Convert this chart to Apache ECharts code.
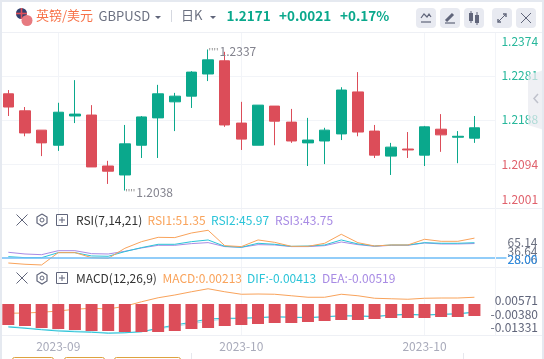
<!DOCTYPE html>
<html>
<head>
<meta charset="utf-8">
<style>
  html, body { margin: 0; padding: 0; background: #fff; }
  #myChart { width: 544px; height: 359px; }
</style>
<script src="https://cdn.jsdelivr.net/npm/echarts@6/dist/echarts.min.js"></script>
</head>
<body>
<div id="myChart"></div>
<script>
// values
const opens  = [1.2243,1.2207,1.2166,1.2134,1.2196,1.2198,1.2090,1.2071,1.2134,1.2192,1.2226,1.2238,1.2285,1.2313,1.2181,1.2134,1.2217,1.2183,1.2139,1.2143,1.2158,1.2247,1.2164,1.2111,1.2126,1.2113,1.2168,1.2151,1.2149];
const closes = [1.2215,1.2160,1.2139,1.2204,1.2200,1.2088,1.2079,1.2137,1.2194,1.2243,1.2238,1.2289,1.2315,1.2177,1.2147,1.2219,1.2185,1.2143,1.2145,1.2166,1.2251,1.2162,1.2113,1.2130,1.2124,1.2173,1.2156,1.2153,1.2171];
const lows   = [1.2196,1.2153,1.2111,1.2122,1.2181,1.2088,1.2052,1.2038,1.2107,1.2107,1.2164,1.2213,1.2270,1.2173,1.2124,1.2134,1.2134,1.2139,1.2090,1.2094,1.2145,1.2153,1.2107,1.2071,1.2107,1.2090,1.2120,1.2096,1.2139];
const highs  = [1.2251,1.2215,1.2166,1.2224,1.2272,1.2219,1.2101,1.2177,1.2196,1.2262,1.2245,1.2291,1.2337,1.2332,1.2226,1.2219,1.2217,1.2211,1.2192,1.2171,1.2257,1.2289,1.2177,1.2139,1.2162,1.2175,1.2200,1.2164,1.2196];

const rsi1 = [22.1,20.6,19.8,34.3,34.3,28.4,27.6,39.4,47.2,52.3,52.0,57.4,60.6,42.5,41.4,49.2,46.4,41.7,41.7,45.3,55.9,46.0,42.1,43.3,43.3,50.0,47.6,47.6,51.35];
const rsi2 = [29.6,28.4,28.4,34.3,34.3,30.4,30.0,35.5,40.2,44.1,44.1,47.2,49.2,41.7,40.6,45.3,44.1,41.7,42.1,43.3,49.2,44.5,42.1,43.3,43.3,46.0,45.3,45.3,45.97];
const rsi3 = [34.7,32.7,31.9,36.6,36.6,33.1,32.7,35.9,39.8,42.9,42.9,44.9,46.1,41.4,40.6,43.7,43.3,41.4,41.4,42.5,46.8,43.7,41.7,42.9,42.9,45.7,44.5,44.5,45.0];
const rsiFloor = 28;

const macdBars = [-0.0084,-0.0088,-0.0096,-0.0100,-0.0104,-0.0108,-0.0108,-0.0112,-0.0112,-0.0112,-0.0108,-0.0100,-0.0096,-0.0088,-0.0084,-0.0080,-0.0076,-0.0076,-0.0072,-0.0068,-0.0064,-0.0064,-0.0060,-0.0056,-0.0056,-0.0056,-0.0052,-0.0052,-0.0048];
const macdLine = [-0.0037,-0.0036,-0.0033,-0.0028,-0.0021,-0.0017,-0.0020,-0.0009,0.0009,0.0025,0.0036,0.0049,0.0061,0.0049,0.0039,0.0040,0.0039,0.0033,0.0027,0.0027,0.0039,0.0033,0.0023,0.0021,0.0019,0.0023,0.0024,0.0024,0.0027];
const difLine  = [-0.0092,-0.0097,-0.0103,-0.0108,-0.0111,-0.0113,-0.0117,-0.0115,-0.0111,-0.0097,-0.0084,-0.0073,-0.0060,-0.0057,-0.0057,-0.0055,-0.0051,-0.0053,-0.0055,-0.0051,-0.0047,-0.0048,-0.0051,-0.0044,-0.0041,-0.0044,-0.0041,-0.0039,-0.0032];
const deaLine  = [-0.0089,-0.0095,-0.0101,-0.0105,-0.0108,-0.0111,-0.0115,-0.0115,-0.0111,-0.0100,-0.0089,-0.0079,-0.0068,-0.0060,-0.0057,-0.0053,-0.0052,-0.0052,-0.0053,-0.0051,-0.0048,-0.0047,-0.0048,-0.0045,-0.0044,-0.0044,-0.0043,-0.0040,-0.0035];

// one empty slot on the right, blank names except where a date is printed
const categories = ['','','','2023-09','','','','','','','','','','','2023-10','','','','','','','','','','','2023-10','','','',''];
const rsiCategories = categories.concat(['']);

const priceTicks = [1.2001, 1.2094, 1.2188, 1.2281, 1.2374];
const prevClose = 1.2150;
const rsiTicks = ['65.14', '36.64', '28.06'];
const rsiFloorLabel = '28.00';
const macdTicks = ['0.00571', '-0.00380', '-0.01331'];

const FONT = '"Noto Sans CJK SC", "Noto Sans", sans-serif';
const GREEN = '#0aa88c', RED = '#dc4d59', ORANGE = '#f9a35b', CYAN = '#2bc4d8', PURPLE = '#a88be4';
const LINE = '#f2f4f8', ICON = '#60657a';

function isDateSlot(i) { return categories[i] !== ''; }
function xAxisFor(grid, data, showLabel) {
  return {
    type: 'category', gridIndex: grid, data: data,
    axisLine: { show: false }, axisTick: { show: false },
    splitLine: { show: true, alignWithLabel: true, interval: (i) => isDateSlot(i), lineStyle: { color: LINE } },
    axisLabel: { show: showLabel, interval: 0, margin: 5, color: '#a9abbb', fontSize: 12, fontFamily: FONT }
  };
}
function lineSeries(name, axis, data, color, z) {
  return {
    name: name, type: 'line', xAxisIndex: axis, yAxisIndex: axis, data: data, z: z || 2,
    showSymbol: false, silent: true, lineStyle: { color: color, width: 1 }
  };
}
function txt(text, x, y, color, size, weight, align) {
  return {
    type: 'text', z: 120, x: x, y: y, silent: true,
    style: {
      text: text, fill: color, fontSize: size, fontFamily: FONT, fontWeight: weight || 'normal',
      align: align || 'left', verticalAlign: 'middle'
    }
  };
}
function seg(pts, color, w) {
  return {
    type: 'polyline', z: 120, silent: true, shape: { points: pts },
    style: { stroke: color || ICON, lineWidth: w || 1, fill: null }
  };
}
function rowIcons(y) {
  return [
    seg([[16.5, y - 5.5], [27.5, y + 5.5]], ICON, 1), seg([[27.5, y - 5.5], [16.5, y + 5.5]], ICON, 1),
    seg([[42, y - 6], [47, y - 3], [47, y + 3], [42, y + 6], [37, y + 3], [37, y - 3], [42, y - 6]], ICON, 1.2),
    { type: 'circle', z: 120, silent: true, shape: { cx: 42, cy: y, r: 2 }, style: { stroke: ICON, fill: null, lineWidth: 1 } },
    { type: 'rect', z: 120, silent: true, shape: { x: 56.5, y: y - 5.5, width: 11, height: 11 }, style: { stroke: ICON, fill: null, lineWidth: 1 } },
    seg([[59, y], [65, y]], ICON, 1), seg([[62, y - 3], [62, y + 3]], ICON, 1)
  ];
}
function button(x) {
  return { type: 'rect', z: 110, silent: true, shape: { x: x, y: 8, width: 20, height: 20, r: 4 }, style: { fill: '#e8eaf1' } };
}
function caret(x, y) {
  return { type: 'polygon', z: 120, silent: true, shape: { points: [[x, y], [x + 6, y], [x + 3, y + 3]] }, style: { fill: ICON } };
}
function hline(y) {
  return { type: 'line', z: 1, silent: true, shape: { x1: 0, y1: y + 0.5, x2: 544, y2: y + 0.5 }, style: { stroke: '#eef0f5', lineWidth: 1 } };
}
function orangeBtn(x, w) {
  return { type: 'rect', z: 110, silent: true, shape: { x: x + 0.5, y: 357.5, width: w, height: 12, r: 2 }, style: { stroke: '#dea23f', fill: '#fff', lineWidth: 1 } };
}

const elements = [
  // page edge
  { type: 'rect', z: 130, silent: true, shape: { x: 0, y: 0, width: 544, height: 2 }, style: { fill: '#e5e9f0' } },
  { type: 'rect', z: 130, silent: true, shape: { x: 0, y: 0, width: 2, height: 359 }, style: { fill: '#e5e9f0' } },
  { type: 'rect', z: 130, silent: true, shape: { x: 542, y: 0, width: 2, height: 359 }, style: { fill: '#e5e9f0' } },
  // separators and the covers trimming the grids at the price column
  hline(32), hline(208), hline(267), hline(335),
  { type: 'rect', z: 100, silent: true, shape: { x: 496, y: 33, width: 4.5, height: 175 }, style: { fill: '#fff' } },
  { type: 'rect', z: 100, silent: true, shape: { x: 506.5, y: 209, width: 12, height: 57 }, style: { fill: '#fff' } },
  { type: 'line', z: 101, silent: true, shape: { x1: 495.5, y1: 33, x2: 495.5, y2: 335 }, style: { stroke: LINE, lineWidth: 1 } },
  // header flags
  { type: 'circle', z: 120, silent: true, shape: { cx: 21.5, cy: 13.5, r: 5.5 }, style: { fill: '#33406e' } },
  seg([[16, 13.5], [27, 13.5]], '#e0505a', 1.6), seg([[21.5, 8], [21.5, 19]], '#e0505a', 1.6),
  { type: 'circle', z: 121, silent: true, shape: { cx: 27, cy: 20.5, r: 5.5 }, style: { fill: '#e77a80' } },
  seg([[22, 19], [32, 19]], '#fff', 1), seg([[22, 22], [32, 22]], '#fff', 1),
  // header text
  txt('英镑/美元', 36, 15.5, '#f7734a', 13),
  txt('GBPUSD', 98.5, 16, '#6b7080', 13),
  caret(155, 16),
  seg([[171.5, 10], [171.5, 22]], '#d5d8e0', 1),
  txt('日K', 181, 15, '#6b7080', 13),
  caret(210, 16),
  txt('1.2171', 226.5, 15.5, GREEN, 13.5, 'bold'),
  txt('+0.0021', 279, 15.5, GREEN, 13.5, 'bold'),
  txt('+0.17%', 340, 15.5, GREEN, 13.5, 'bold'),
  // toolbar buttons
  button(416), button(440), button(464), button(492), button(516),
  seg([[421, 18], [424, 14], [427, 17], [429, 14], [431, 17]], ICON, 1.2), seg([[421, 22], [431, 22]], ICON, 1.2),
  seg([[446, 21], [453, 14]], ICON, 3), seg([[445, 23], [455, 23]], ICON, 1.2),
  { type: 'rect', z: 120, silent: true, shape: { x: 469, y: 13, width: 4, height: 8 }, style: { fill: ICON } },
  { type: 'rect', z: 120, silent: true, shape: { x: 475, y: 15, width: 4, height: 8 }, style: { fill: ICON } },
  seg([[471, 11], [471, 23]], ICON, 1), seg([[477, 12], [477, 25]], ICON, 1),
  seg([[498, 22], [506, 14]], ICON, 1), seg([[503, 14], [506, 14], [506, 17]], ICON, 1.4), seg([[498, 19], [498, 22], [501, 22]], ICON, 1.4),
  seg([[521, 13], [531, 23]], ICON, 1), seg([[531, 13], [521, 23]], ICON, 1),
  // collapse tab
  { type: 'polygon', z: 125, silent: true, shape: { points: [[544, 70], [528, 75], [528, 125], [544, 130]] }, style: { fill: 'rgba(232,233,240,0.7)' } },
  seg([[538, 94], [534, 98.5], [538, 103]], ICON, 1.5),
  // indicator rows
  ...rowIcons(220),
  txt('RSI(7,14,21)', 76, 220, '#333', 12),
  txt('RSI1:51.35', 147.5, 220, ORANGE, 12),
  txt('RSI2:45.97', 211, 220, CYAN, 12),
  txt('RSI3:43.75', 275, 220, PURPLE, 12),
  ...rowIcons(278),
  txt('MACD(12,26,9)', 76, 278, '#333', 12),
  txt('MACD:0.00213', 162.5, 278, ORANGE, 12),
  txt('DIF:-0.00413', 247, 278, CYAN, 12),
  txt('DEA:-0.00519', 322, 278, PURPLE, 12),
  // panel tick labels
  txt(rsiTicks[0], 507.5, 242, '#6b7080', 12),
  txt(rsiTicks[1], 507.5, 251, '#6b7080', 12),
  txt(rsiTicks[2], 507.5, 259, '#6b7080', 12),
  txt(rsiFloorLabel, 507.5, 259, '#2e90e8', 12),
  txt(macdTicks[0], 538, 300.5, '#60657a', 12, 'normal', 'right'),
  txt(macdTicks[1], 538, 314, '#60657a', 12, 'normal', 'right'),
  txt(macdTicks[2], 538, 327, '#60657a', 12, 'normal', 'right'),
  // cut-off buttons under the chart
  orangeBtn(12, 41), orangeBtn(64, 40), orangeBtn(114, 66),
  seg([[191.5, 353], [191.5, 359]], '#e6e8ee', 1), seg([[463.5, 353], [463.5, 359]], '#e6e8ee', 1)
];

function extremeLabel(idx, value, dy) {
  return {
    coord: [idx, value], value: value, symbol: 'circle', symbolSize: 1,
    itemStyle: { color: 'rgba(0,0,0,0)' },
    label: {
      show: true, position: 'right', distance: 0, offset: [0, dy],
      formatter: "{d|''''}{t|" + value.toFixed(4) + '}',
      rich: {
        d: { color: '#888', fontSize: 9, padding: [0, 1, 0, 0], fontFamily: FONT },
        t: { color: '#83838e', fontSize: 12, fontFamily: FONT }
      }
    }
  };
}

const option = {
  animation: false,
  backgroundColor: '#fff',
  textStyle: { fontFamily: FONT },
  graphic: { elements: elements },
  grid: [
    { left: -1, width: 500.4, top: 32, height: 176 },
    { left: -1, width: 517.1, top: 208, height: 59 },
    { left: -1, width: 500.4, top: 267, height: 68 }
  ],
  xAxis: [
    xAxisFor(0, categories, false),
    xAxisFor(1, rsiCategories, false),
    xAxisFor(2, categories, true)
  ],
  yAxis: [
    {
      type: 'value', gridIndex: 0, position: 'right', min: 1.2001, max: 1.2374, scale: true,
      axisLine: { show: false },
      axisTick: { show: false, customValues: priceTicks },
      splitLine: { show: true, lineStyle: { color: LINE } },
      axisLabel: {
        customValues: priceTicks, margin: 2, fontSize: 12, lineHeight: 18, fontFamily: FONT,
        verticalAlignMinLabel: 'bottom', verticalAlignMaxLabel: 'top',
        formatter: (v) => v.toFixed(4),
        color: (v) => (v >= prevClose ? '#27b79b' : '#e0616c')
      }
    },
    { type: 'value', gridIndex: 1, min: 17.4, max: 86.8, show: false, splitLine: { show: false } },
    { type: 'value', gridIndex: 2, min: -0.0124, max: 0.0148, show: false, splitLine: { show: false } }
  ],
  series: [
    {
      name: 'GBPUSD', type: 'candlestick', xAxisIndex: 0, yAxisIndex: 0, barWidth: 11,
      data: opens.map((o, i) => [o, closes[i], lows[i], highs[i]]),
      itemStyle: { color: GREEN, color0: RED, borderColor: GREEN, borderColor0: RED, borderWidth: 1 },
      markPoint: { silent: true, data: [extremeLabel(12, 1.2337, 2), extremeLabel(7, 1.2038, 2)] }
    },
    lineSeries('RSI3', 1, rsi3, PURPLE),
    lineSeries('RSI2', 1, rsi2, CYAN),
    lineSeries('RSI1', 1, rsi1, ORANGE),
    {
      name: 'RSI floor', type: 'line', xAxisIndex: 1, yAxisIndex: 1, data: [], silent: true,
      markLine: {
        silent: true, symbol: 'none', label: { show: false },
        lineStyle: { color: '#6ebcf7', type: 'solid', width: 1.5 },
        data: [{ yAxis: rsiFloor }]
      }
    },
    lineSeries('DEA', 2, deaLine, '#a8e4ef'),
    lineSeries('DIF', 2, difLine, CYAN),
    lineSeries('MACD', 2, macdLine, ORANGE),
    {
      name: 'MACD bar', type: 'bar', xAxisIndex: 2, yAxisIndex: 2, data: macdBars, barWidth: 12, z: 3, silent: true,
      itemStyle: { color: RED }
    }
  ]
};

const myChart = echarts.init(document.getElementById('myChart'), null, { renderer: 'canvas' });
myChart.setOption(option);
</script>
</body>
</html>
